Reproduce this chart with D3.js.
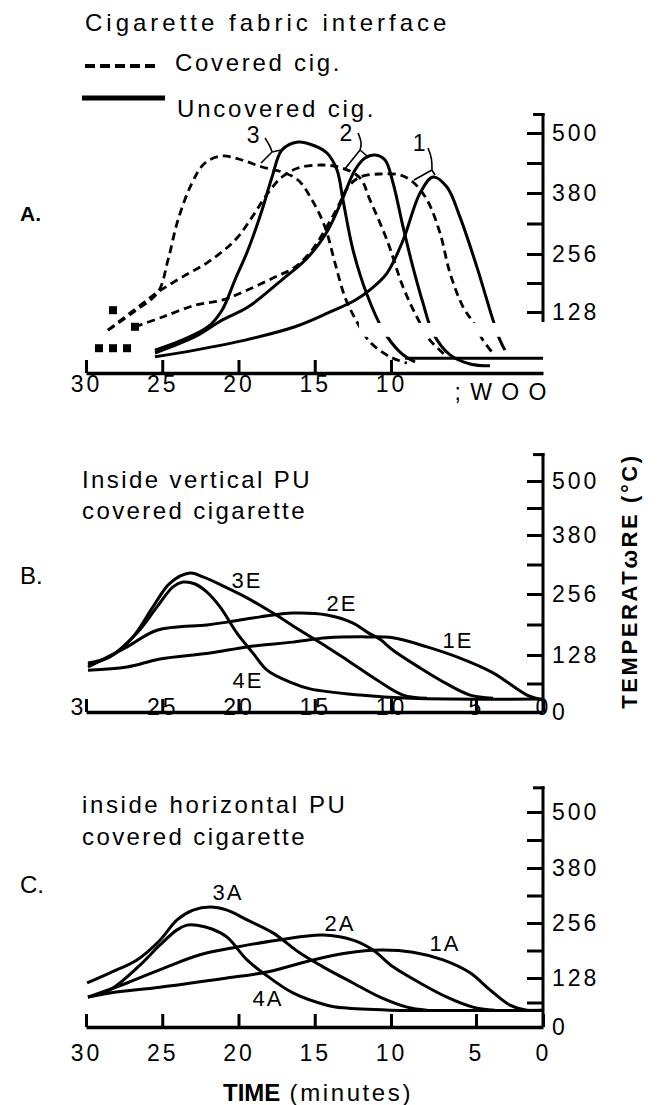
<!DOCTYPE html>
<html>
<head>
<meta charset="utf-8">
<script src="https://cdn.jsdelivr.net/npm/d3@7/dist/d3.min.js"></script>
<style>
body { margin: 0; background: #fff; }
svg text { font-family: "Liberation Sans", Arial, sans-serif; fill: #000; }
</style>
</head>
<body>
<script>
// shared axes (time counts down to 0)
var timeTicks = [30, 25, 20, 15, 10, 5, 0];
var tempTicks = [500, 380, 256, 128, 0];
var tempMinor = [440, 318, 192, 64];

// panel A - cigarette/fabric interface, [minutes, degC]
var coveredA1 = [[26.79,97],[25.02,117],[22.85,143],[21.08,154],[19.38,177],[17.61,205],[16.30,227],[15.18,264],[14.33,305],[13.48,352],[12.82,392],[12.03,412],[10.72,418],[9.47,416],[8.71,402],[7.88,366],[7.12,299],[6.53,214],[5.76,139],[5.18,107],[4.48,69],[3.81,44]];
var coveredA2 = [[28.56,90],[26.59,139],[25.28,172],[23.70,205],[22.00,238],[20.23,284],[19.11,331],[18.07,380],[17.15,412],[16.10,430],[14.52,436],[13.21,430],[12.03,410],[11.38,366],[10.26,284],[9.29,183],[8.47,117],[7.71,69],[6.82,38]];
var coveredA3 = [[28.56,90],[26.79,130],[25.28,172],[24.62,243],[23.97,325],[23.05,400],[22.20,440],[21.08,454],[19.77,446],[18.46,432],[17.15,422],[16.10,406],[15.18,366],[14.33,311],[13.67,236],[13.02,161],[12.23,107],[11.38,65],[10.07,34],[9.06,21]];
var uncoveredA1 = [[25.48,34],[22.85,48],[19.57,69],[16.30,97],[14.13,126],[12.36,154],[11.38,177],[10.26,214],[9.29,284],[8.29,380],[7.53,412],[6.71,392],[5.94,331],[4.93,227],[3.73,111],[3.21,69],[2.84,48]];
var uncoveredA2 = [[25.48,42],[22.85,76],[21.08,111],[19.38,139],[17.15,199],[15.44,249],[14.13,305],[13.21,366],[12.36,426],[11.70,450],[11.05,456],[10.39,446],[9.88,400],[9.29,311],[8.71,227],[8.12,148],[7.53,84],[6.53,38],[5.35,19],[3.96,15]];
var uncoveredA3 = [[25.48,48],[23.70,69],[22.00,97],[21.08,132],[20.23,199],[19.38,264],[18.46,345],[17.80,412],[17.15,466],[16.10,482],[14.98,474],[14.20,460],[13.54,426],[13.15,366],[12.49,264],[11.57,166],[10.52,90],[9.47,44],[8.59,23]];
var ambientA = [[9.18,31],[0,31]];
var startMarksA = [[29.15,52],[28.23,52],[27.31,52],[28.23,132],[26.79,97]];
var labelsA = ["3", "2", "1"];
var labelPosA = [[18.98,496],[12.89,500],[8.29,480]];
// bracket: top, bend, joint, left end, right end
var bracketsA = [
  [[18.26,490],[17.93,474],[17.80,462],[18.52,440],[17.21,466]],
  [[12.16,500],[11.90,480],[12.03,466],[13.08,426],[11.57,454]],
  [[7.82,470],[7.59,450],[7.59,426],[8.65,406],[7.41,416]]
];

// panel B - inside vertical PU covered cigarette
var seriesB1 = [[29.87,94],[27.31,101],[25.15,119],[21.87,132],[19.44,145],[16.43,155],[14.20,164],[11.57,166],[9.88,164],[7.88,145],[5.94,121],[3.73,88],[1.19,38],[0,27]];
var seriesB2 = [[29.87,101],[27.31,145],[25.34,180],[22.07,191],[20.75,197],[18.59,208],[16.43,216],[14.20,212],[12.49,195],[11.51,175],[10.72,161],[9.88,138],[8.29,99],[6.71,63],[5.35,38],[3.73,31]];
var seriesB3 = [[29.87,110],[28.43,124],[26.92,166],[25.61,229],[24.49,279],[23.18,300],[22.33,292],[20.75,269],[19.44,248],[17.74,216],[15.97,180],[14.20,145],[12.89,117],[10.92,72],[9.29,38],[7.88,31]];
var seriesB4 = [[29.87,106],[28.43,124],[26.66,174],[25.34,229],[24.30,271],[23.64,281],[22.85,277],[22.07,260],[21.21,229],[20.10,174],[19.05,132],[18.13,94],[16.62,67],[15.31,52],[12.03,38],[8.88,31],[0,29]];
var labelsB = ["1E", "2E", "3E", "4E"];
var labelPosB = [[6.06,159],[13.21,237],[19.44,285],[19.38,72]];

// panel C - inside horizontal PU covered cigarette
var seriesC1 = [[29.87,78],[28.43,89],[25.15,104],[20.75,128],[18.13,142],[15.11,170],[12.89,186],[10.72,193],[8.71,188],[6.94,170],[5.35,140],[3.96,97],[2.46,57],[1.19,44],[0,44]];
var seriesC2 = [[29.87,78],[27.31,115],[24.69,154],[22.52,182],[20.10,200],[17.48,216],[14.46,228],[12.49,216],[11.18,193],[9.88,154],[8.29,115],[6.71,78],[5.18,52],[3.58,44]];
var seriesC3 = [[29.93,115],[28.43,140],[26.66,170],[25.15,216],[24.03,263],[22.98,285],[21.87,292],[20.75,285],[19.44,263],[17.74,233],[15.97,186],[14.46,154],[12.49,115],[10.72,78],[9.06,52],[7.88,44]];
var seriesC4 = [[29.87,78],[28.43,97],[26.46,158],[25.15,205],[24.03,240],[23.38,251],[22.72,251],[21.74,242],[20.75,223],[19.44,170],[18.39,140],[16.43,89],[14.20,57],[13.15,50],[10.07,44],[0,44]];
var labelsC = ["1A", "2A", "3A", "4A"];
var labelPosC = [[6.82,209],[13.34,256],[20.69,326],[18.07,76]];

var svg = d3.select("body").append("svg")
    .attr("width", 659)
    .attr("height", 1105);

// the scan's axes are a bit uneven, so the scales are piecewise
var x = d3.scaleLinear().domain([30, 10, 5, 0]).range([86, 391, 476, 543]);
var yA = d3.scaleLinear().domain([0, 128, 256, 380, 500]).range([373, 312, 254, 193, 133]);
var yB = d3.scaleLinear().domain([0, 128, 256, 380, 500]).range([712, 655, 594, 535, 481]);
var yC = d3.scaleLinear().domain([0, 128, 256, 380, 500]).range([1027, 978, 923, 868, 812]);

function lineOf(y) {
    return d3.line()
        .x(function(d) { return x(d[0]); })
        .y(function(d) { return y(d[1]); })
        .curve(d3.curveCatmullRom.alpha(0.5));
}

function drawCurve(data, y, dashed) {
    svg.append("path")
        .attr("d", lineOf(y)(data))
        .attr("fill", "none")
        .attr("stroke", "#000")
        .attr("stroke-width", dashed ? 2.8 : 3)
        .attr("stroke-dasharray", dashed ? "8,5" : null);
}

// right hand temperature axis, ticks pointing in
function tempAxis(y, top, bottom, labels) {
    var g = svg.append("g").attr("transform", "translate(" + x(0) + ",0)");
    g.append("line")
        .attr("y1", y(top)).attr("y2", y(bottom))
        .attr("stroke", "#000").attr("stroke-width", 3);
    g.append("line")//little flag at the top
        .attr("x1", -10).attr("x2", 1.5)
        .attr("y1", y(top) + 1.5).attr("y2", y(top) + 1.5)
        .attr("stroke", "#000").attr("stroke-width", 3);
    var major = g.append("g")
        .call(d3.axisRight(y).tickValues(labels).tickSizeInner(-16).tickSizeOuter(0).tickPadding(9));
    var minor = g.append("g")
        .call(d3.axisRight(y).tickValues(tempMinor.filter(function(v) { return v >= bottom; }))
            .tickSizeInner(-16).tickSizeOuter(0).tickFormat(""));
    [major, minor].forEach(function(a) {
        a.select(".domain").remove();
        a.selectAll("line").attr("stroke-width", 3);
    });
    major.attr("font-size", 23).attr("font-family", null);
    major.selectAll("text").style("letter-spacing", "3px");
    return g;
}

// time axis along the bottom, ticks pointing up
function timeAxis(yPos, values, pad, fmt) {
    var g = svg.append("g")
        .attr("transform", "translate(0," + yPos + ")")
        .call(d3.axisBottom(x).tickValues(values).tickSizeInner(-13).tickSizeOuter(0)
            .tickPadding(pad).tickFormat(fmt || d3.format("d")));
    g.select(".domain").attr("stroke-width", 3.5);
    g.selectAll("line").attr("stroke-width", 3);
    g.attr("font-size", 23).attr("font-family", null);
    g.selectAll("text").style("letter-spacing", "3px");
    return g;
}

function curveLabels(names, pos, y, size) {
    svg.append("g").selectAll("text")
        .data(names)
        .enter()
        .append("text")
        .attr("x", function(d, i) { return x(pos[i][0]); })
        .attr("y", function(d, i) { return y(pos[i][1]); })
        .attr("dy", "0.35em")
        .attr("text-anchor", "middle")
        .style("font-size", size + "px")
        .style("letter-spacing", "2px")
        .text(function(d) { return d; });
}

function text(str, xp, yp, size, spacing) {
    return svg.append("text")
        .attr("x", xp).attr("y", yp)
        .style("font-size", size + "px")
        .style("letter-spacing", (spacing || 0) + "px")
        .text(str);
}

// ---------- panel A ----------
text("Cigarette fabric interface", 85, 31, 24, 4);
svg.append("line").attr("x1", 85).attr("x2", 158).attr("y1", 66).attr("y2", 66)
    .attr("stroke", "#000").attr("stroke-width", 4).attr("stroke-dasharray", "10,5");
text("Covered cig.", 175, 71, 24, 2.7);
svg.append("line").attr("x1", 82).attr("x2", 165).attr("y1", 98).attr("y2", 98)
    .attr("stroke", "#000").attr("stroke-width", 5);
text("Uncovered cig.", 177, 117, 24, 2.8);
text("A.", 20, 221, 21).style("font-weight", "bold");

[coveredA1, coveredA2, coveredA3].forEach(function(s) { drawCurve(s, yA, true); });
[uncoveredA1, uncoveredA2, uncoveredA3].forEach(function(s) { drawCurve(s, yA, false); });
drawCurve(ambientA, yA, false);

// white gap in the scan just above the baseline
svg.append("rect")
    .attr("x", x(12.1)).attr("width", x(0) - x(12.1) + 3)
    .attr("y", yA(105)).attr("height", yA(76) - yA(105))
    .attr("fill", "#fff");

svg.append("g").selectAll("rect")
    .data(startMarksA)
    .enter()
    .append("rect")
    .attr("x", function(d) { return x(d[0]) - 4; })
    .attr("y", function(d) { return yA(d[1]) - 4; })
    .attr("width", 8).attr("height", 8)
    .attr("fill", "#000");

var bracketLine = d3.line()
    .x(function(d) { return x(d[0]); })
    .y(function(d) { return yA(d[1]); })
    .curve(d3.curveBasis);
bracketsA.forEach(function(b) {
    svg.append("path").attr("d", bracketLine([b[0], b[1], b[2]]) + bracketLine([b[2], b[3]]) + bracketLine([b[2], b[4]]))
        .attr("fill", "none").attr("stroke", "#000").attr("stroke-width", 1.6);
});
curveLabels(labelsA, labelPosA, yA, 23);

tempAxis(yA, 540, 107, [500, 380, 256, 128]);
timeAxis(yA(0), [30, 25, 20, 15, 10], 3);
text("; W O O", x(0) + 5, yA(0) + 27, 23, 1.5).attr("text-anchor", "end");

// ---------- panel B ----------
text("Inside vertical PU", 82, 488, 24, 2.4);
text("covered cigarette", 82, 519, 24, 2.4);
text("B.", 20, 584, 24);

[seriesB1, seriesB2, seriesB3, seriesB4].forEach(function(s) { drawCurve(s, yB, false); });
curveLabels(labelsB, labelPosB, yB, 22);
tempAxis(yB, 562, 0, tempTicks);
var axB = timeAxis(yB(0), timeTicks, -13, function(d) { return d == 30 ? "3" : d; });
axB.selectAll("text").filter(function(d) { return d == 30; }).attr("dx", -8);

svg.append("text")
    .attr("transform", "translate(637,581) rotate(-90)")
    .attr("text-anchor", "middle")
    .style("font-size", "22px")
    .style("font-weight", "bold")
    .style("letter-spacing", "2.6px")
    .text("TEMPERATωRE (°C)");

// ---------- panel C ----------
text("inside horizontal PU", 82, 813, 24, 2.6);
text("covered cigarette", 82, 845, 24, 2.4);
text("C.", 20, 893, 24);

[seriesC1, seriesC2, seriesC3, seriesC4].forEach(function(s) { drawCurve(s, yC, false); });
curveLabels(labelsC, labelPosC, yC, 22);
tempAxis(yC, 555, 0, tempTicks);
timeAxis(yC(0), timeTicks, 18);

var xt = svg.append("text")
    .attr("x", 318).attr("y", 1101)
    .attr("text-anchor", "middle")
    .style("font-size", "24px");
xt.append("tspan").style("font-weight", "bold").text("TIME");
xt.append("tspan").style("letter-spacing", "2.6px").text(" (minutes)");
</script>
</body>
</html>
